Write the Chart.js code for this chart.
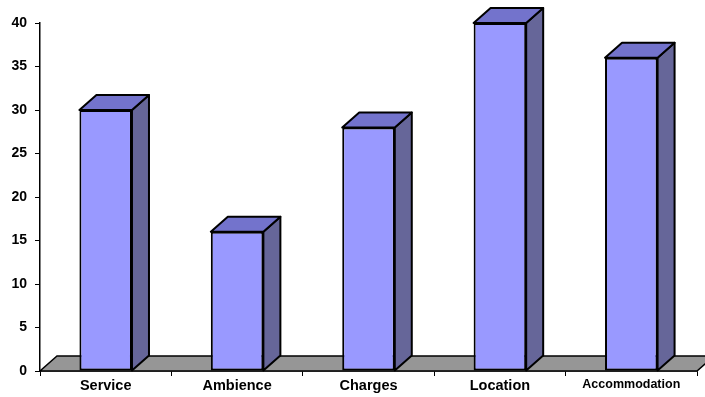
<!DOCTYPE html>
<html>
<head>
<meta charset="utf-8">
<script src="https://cdn.jsdelivr.net/npm/chart.js@4.4.1/dist/chart.umd.min.js"></script>
<style>
  html, body { margin: 0; padding: 0; background: #fff; }
  #wrap { width: 705px; height: 397px; }
</style>
</head>
<body>
<div id="wrap"><canvas id="bars"></canvas></div>
<script>
// survey categories and their counts
const categories = ['Service', 'Ambience', 'Charges', 'Location', 'Accommodation'];
const values = [30, 16, 28, 40, 36];
const yTicks = [0, 5, 10, 15, 20, 25, 30, 35, 40];

const FRONT = '#9999ff', TOP = '#7373cc', SIDE = '#666699', FLOOR = '#969696';
const DX = 17, DY = -15;   // depth offset of the 3d look

function poly(ctx, pts, fill) {
  ctx.beginPath();
  ctx.moveTo(pts[0][0], pts[0][1]);
  for (let i = 1; i < pts.length; i++) ctx.lineTo(pts[i][0], pts[i][1]);
  ctx.closePath();
  ctx.fillStyle = fill;
  ctx.fill();
  ctx.stroke();
}

// gray floor under the bars
const floorPlugin = {
  id: 'floor',
  beforeDatasetsDraw(chart) {
    const { ctx, chartArea: a } = chart;
    const y0 = chart.scales.y.getPixelForValue(0);
    ctx.save();
    ctx.strokeStyle = '#000';
    ctx.lineWidth = 1.5;
    poly(ctx, [[a.left, y0], [a.right, y0], [a.right + DX, y0 + DY], [a.left + DX, y0 + DY]], FLOOR);
    ctx.restore();
  }
};

// top and side faces of each bar
const boxPlugin = {
  id: 'box3d',
  afterDatasetsDraw(chart) {
    const { ctx } = chart;
    ctx.save();
    ctx.strokeStyle = '#000';
    ctx.lineWidth = 2;
    ctx.lineJoin = 'round';
    chart.getDatasetMeta(0).data.forEach(bar => {
      const l = bar.x - bar.width / 2, r = bar.x + bar.width / 2;
      const t = bar.y, b = bar.base;
      poly(ctx, [[r, b], [r + DX, b + DY], [r + DX, t + DY], [r, t]], SIDE);
      poly(ctx, [[l, t], [l + DX, t + DY], [r + DX, t + DY], [r, t]], TOP);
    });
    ctx.restore();
  }
};

new Chart(document.getElementById('bars'), {
  type: 'bar',
  data: {
    labels: categories,
    datasets: [{
      data: values,
      backgroundColor: FRONT,
      borderColor: '#000',
      borderWidth: 2,
      borderSkipped: false,
      categoryPercentage: 1,
      barPercentage: 0.4
    }]
  },
  options: {
    responsive: true,
    maintainAspectRatio: false,
    animation: false,
    layout: { padding: { top: 23, right: 8, left: 0, bottom: 0 } },
    plugins: { legend: { display: false }, tooltip: { enabled: false } },
    scales: {
      x: {
        grid: { drawOnChartArea: false, drawTicks: true, tickLength: 5, color: '#000', lineWidth: 1 },
        border: { color: '#000', width: 1.5 },
        ticks: {
          color: '#000',
          padding: 1,
          maxRotation: 0,
          font: c => ({ family: 'Liberation Sans, Arial, sans-serif', weight: 'bold', size: c.index === 4 ? 12.5 : 14.5 })
        },
        afterFit: s => { s.height = 26; }
      },
      y: {
        min: 0,
        max: 40,
        afterBuildTicks: s => { s.ticks = yTicks.map(v => ({ value: v })); },
        grid: { drawOnChartArea: false, drawTicks: true, tickLength: 5, color: '#000', lineWidth: 1 },
        border: { color: '#000', width: 1.5 },
        ticks: {
          color: '#000',
          padding: 8,
          font: { family: 'Liberation Sans, Arial, sans-serif', weight: 'bold', size: 14 }
        },
        afterFit: s => { s.width = 40; }
      }
    }
  },
  plugins: [floorPlugin, boxPlugin]
});
</script>
</body>
</html>
